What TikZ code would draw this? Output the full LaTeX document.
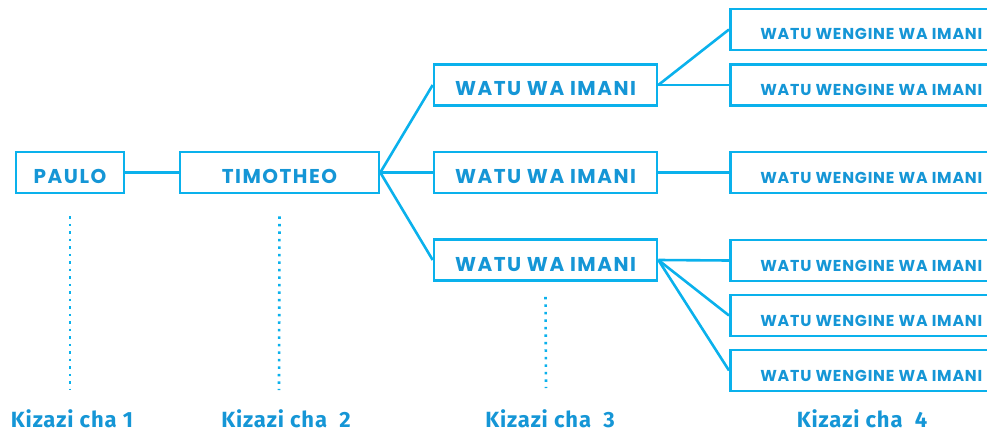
\documentclass[tikz,border=0pt]{standalone}
\usepackage{fontspec}
\setmainfont{Fira Sans}
\newfontfamily\boxfont[LetterSpace=5]{Poppins}
\newfontfamily\bigboxfont[LetterSpace=7.5]{Poppins}
\newfontfamily\genfont[LetterSpace=4]{Fira Sans}
\definecolor{linecyan}{HTML}{0AB1EC}
\definecolor{textblue}{HTML}{1596D6}
\begin{document}
\begin{tikzpicture}[x=1pt,y=-1pt,
	mtu/.style={draw=linecyan,line width=2.6pt,minimum height=41pt,inner sep=0pt,text height=22pt,text depth=0pt,text=textblue,font=\bigboxfont\bfseries\fontsize{20}{20}\selectfont},
	wengine/.style={mtu,minimum width=272pt,anchor=west,font=\boxfont\bfseries\fontsize{15.8}{15.8}\selectfont,text height=21pt},
	unga/.style={draw=linecyan,line width=2.6pt},
	doa/.style={draw=linecyan,line width=2.6pt,dash pattern=on 2.6pt off 4.9pt},
	kizazi/.style={text=textblue,anchor=base,inner sep=0pt,font=\genfont\bfseries\fontsize{22}{22}\selectfont}]
		\useasboundingbox (0,0) rectangle (987,433);
		\clip (0,0) rectangle (987,433);
		% vizazi
		\node[mtu,minimum width=108pt] (paulo) at (70,172.5) {PAULO};
		\node[mtu,minimum width=199pt] (timotheo) at (279.5,172.5) {TIMOTHEO};
		\node[mtu,minimum width=223pt] (imani1) at (545.5,85) {WATU WA IMANI};
		\node[mtu,minimum width=223pt] (imani2) at (545.5,172.5) {WATU WA IMANI};
		\node[mtu,minimum width=223pt] (imani3) at (545.5,260) {WATU WA IMANI};
		\node[wengine] (w1) at (729,29.5) {\hspace{10pt}WATU WENGINE WA IMANI};
		\node[wengine] (w2) at (729,85) {\hspace{10pt}WATU WENGINE WA IMANI};
		\node[wengine] (w3) at (729,172.5) {\hspace{10pt}WATU WENGINE WA IMANI};
		\node[wengine] (w4) at (729,260.5) {\hspace{10pt}WATU WENGINE WA IMANI};
		\node[wengine] (w5) at (729,315.5) {\hspace{10pt}WATU WENGINE WA IMANI};
		\node[wengine] (w6) at (729,370.5) {\hspace{10pt}WATU WENGINE WA IMANI};
		% mistari
		\draw[unga] (paulo.east) -- (timotheo.west);
		\foreach \i in {1,2,3} \draw[unga] (timotheo.east) -- (imani\i.west);
		\foreach \j in {1,2} \draw[unga] (imani1.east) -- (w\j.west);
		\draw[unga] (imani2.east) -- (w3.west);
		\foreach \j in {4,5,6} \draw[unga] (imani3.east) -- (w\j.west);
		% nukta
		\coordinate (d1) at (70,390);
		\coordinate (d2) at (279,390);
		\coordinate (d3) at (546,388);
		\draw[doa] ([yshift=-22pt]paulo.south) -- (d1);
		\draw[doa] ([yshift=-22pt]timotheo.south) -- (d2);
		\draw[doa] ([yshift=-15pt]imani3.south) -- (d3);
		% majina ya vizazi
		\node[kizazi] (k1) at (72,427) {Kizazi cha 1};
		\node[kizazi] (k2) at (286,427) {Kizazi cha \ 2};
		\node[kizazi] (k3) at (550,427) {Kizazi cha \ 3};
		\node[kizazi] (k4) at (862,427) {Kizazi cha \ 4};
\end{tikzpicture}
\end{document}
